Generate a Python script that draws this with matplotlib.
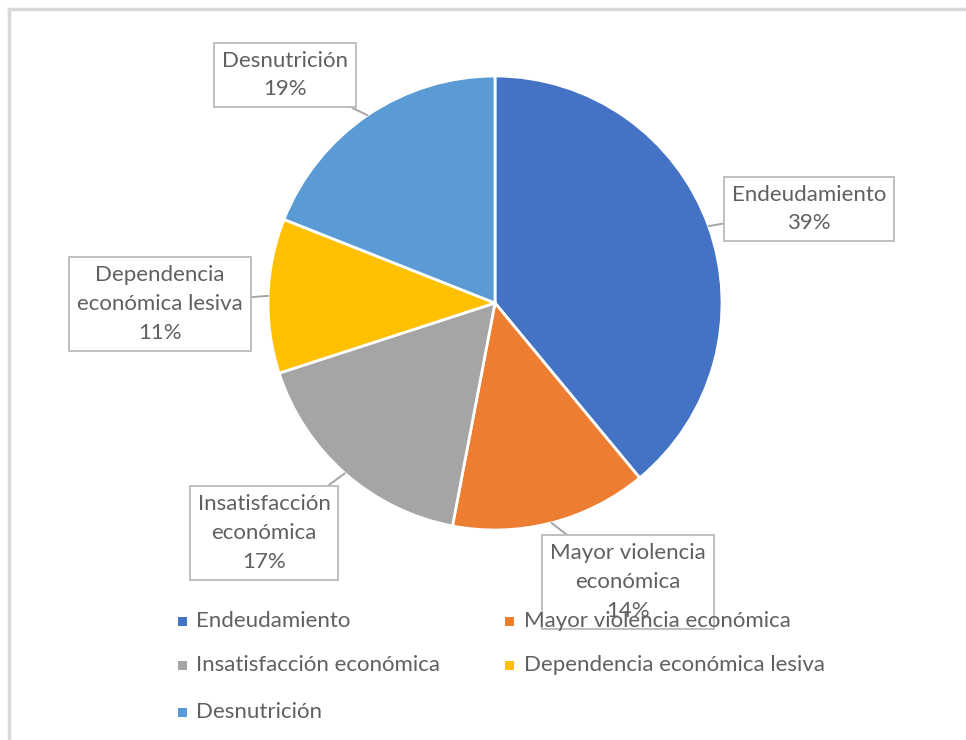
import matplotlib
matplotlib.use("Agg")
import matplotlib.pyplot as plt
import numpy as np
from matplotlib.patches import Rectangle
from matplotlib.lines import Line2D

# ---------------------------------------------------------------------------
# Data
# ---------------------------------------------------------------------------

categories = [
    "Endeudamiento",
    "Mayor violencia económica",
    "Insatisfacción económica",
    "Dependencia económica lesiva",
    "Desnutrición",
]
label_texts = [
    "Endeudamiento",
    "Mayor violencia\neconómica",
    "Insatisfacción\neconómica",
    "Dependencia\neconómica lesiva",
    "Desnutrición",
]
percentages = [39, 14, 17, 11, 19]
colors = ["#4472C4", "#ED7D31", "#A5A5A5", "#FFC000", "#5B9BD5"]

# ---------------------------------------------------------------------------
# Layout (pixels, image coords: origin top-left)
# ---------------------------------------------------------------------------

W, H = 966, 740
CX, CY, R = 495, 303, 227
label_pos = [(809, 209), (628, 582), (264, 533), (160, 304), (285, 75)]
legend_cols = [182, 510]
legend_rows = [621, 665, 712]

TEXT_COLOR = "#606060"
FONT = "Lato"
FS = 16

fig = plt.figure(figsize=(W / 100, H / 100), dpi=100)
fig.patch.set_facecolor("white")

# chart-area border (only top and left edges visible)
fig.add_artist(Line2D([9 / W, 1], [1 - 9 / H, 1 - 9 / H], color="#D9D9D9", lw=2.5))
fig.add_artist(Line2D([9 / W, 9 / W], [0, 1 - 9 / H], color="#D9D9D9", lw=2.5))

ax = fig.add_axes([(CX - R) / W, 1 - (CY + R) / H, 2 * R / W, 2 * R / H])
wedges, _ = ax.pie(
    percentages,
    colors=colors,
    startangle=90,
    counterclock=False,
    radius=1,
    wedgeprops=dict(edgecolor="white", linewidth=2),
)
ax.set_xlim(-1, 1)
ax.set_ylim(-1, 1)
ax.set_aspect("equal")
ax.axis("off")

# callout labels
for w, txt, pct, (lx, ly) in zip(wedges, label_texts, percentages, label_pos):
    ang = np.deg2rad((w.theta1 + w.theta2) / 2)
    ax.annotate(
        f"{txt}\n{pct}%",
        xy=(np.cos(ang), np.sin(ang)),
        xytext=(lx, H - ly),
        textcoords="figure pixels",
        ha="center", va="center",
        fontsize=FS, family=FONT, color=TEXT_COLOR,
        linespacing=1.55,
        bbox=dict(boxstyle="square,pad=0.35", fc="white", ec="#BFBFBF", lw=1.4),
        arrowprops=dict(arrowstyle="-", color="#A6A6A6", lw=1.4,
                        shrinkA=0, shrinkB=0),
        annotation_clip=False,
        zorder=5,
    )

# legend (drawn on top, as in the original)
for i, (cat, col) in enumerate(zip(categories, colors)):
    x = legend_cols[i % 2]
    y = legend_rows[i // 2]
    fig.add_artist(Rectangle(((x - 4.5) / W, 1 - (y + 4.5) / H), 9 / W, 9 / H,
                             transform=fig.transFigure, fc=col, ec="none", zorder=10))
    fig.text((x + 14) / W, 1 - y / H, cat, ha="left", va="center",
             fontsize=FS, family=FONT, color=TEXT_COLOR, zorder=10)

plt.savefig("out.png", dpi=100, facecolor="white")
